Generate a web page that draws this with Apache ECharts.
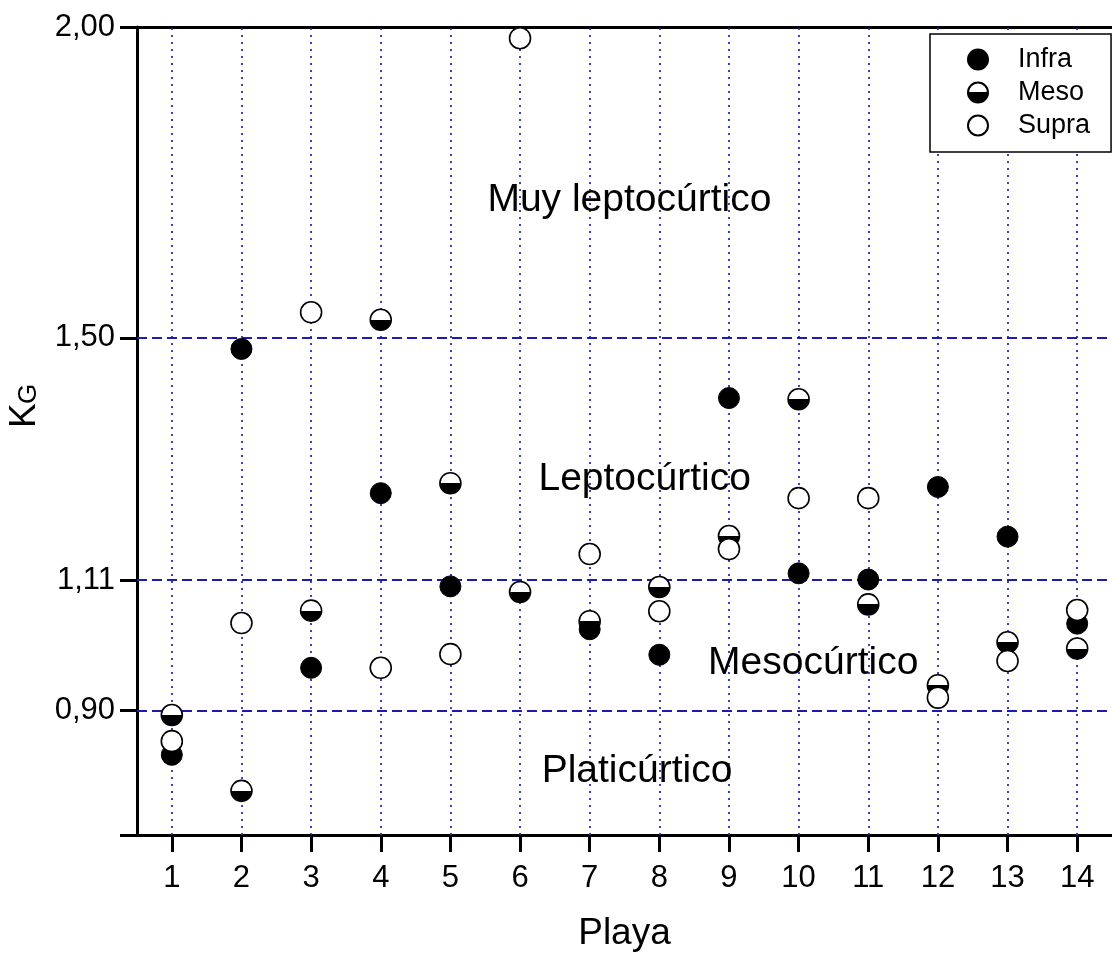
<!DOCTYPE html>
<html>
<head>
<meta charset="utf-8">
<script src="https://cdn.jsdelivr.net/npm/echarts@6/dist/echarts.min.js"></script>
<style>
  html, body { margin: 0; padding: 0; background: #fff; }
  #chart { width: 1112px; height: 960px; }
</style>
</head>
<body>
<div id="chart"></div>
<script>
// Beach index (Playa) and Folk & Ward kurtosis (KG) per beach zone
const playas = [1, 2, 3, 4, 5, 6, 7, 8, 9, 10, 11, 12, 13, 14];
const infra = [0.829, 1.482, 0.969, 1.250, 1.100, null, 1.031, 0.990, 1.403, 1.121, 1.111, 1.260, 1.180, 1.040];
const meso  = [0.893, 0.771, 1.061, 1.529, 1.266, 1.091, 1.044, 1.099, 1.181, 1.401, 1.071, 0.941, 1.010, 1.000];
const supra = [0.851, 1.041, 1.541, 0.969, 0.991, 1.982, 1.152, 1.060, 1.160, 1.242, 1.242, 0.921, 0.980, 1.062];

// Kurtosis class limits and y tick labels
const yTicks = [0.90, 1.11, 1.50, 2.00];
const yMin = 0.70, yMax = 2.00;
const classLimits = [0.90, 1.11, 1.50];

// Class names and where they are written (Playa, KG)
const classNames = ['Muy leptocúrtico', 'Leptocúrtico', 'Mesocúrtico', 'Platicúrtico'];
const classX = [7.57, 7.79, 10.21, 7.68];
const classY = [1.722, 1.273, 0.977, 0.803];

const FONT = '"Liberation Sans", Arial, Helvetica, sans-serif';
const pair = arr => playas.map((p, i) => [p, arr[i]]).filter(d => d[1] != null);

const chart = echarts.init(document.getElementById('chart'), null, { renderer: 'canvas' });

// top half white, bottom half black
const halfFill = {
  type: 'linear', x: 0, y: 0, x2: 0, y2: 1,
  colorStops: [
    { offset: 0, color: '#ffffff' }, { offset: 0.5, color: '#ffffff' },
    { offset: 0.5, color: '#000000' }, { offset: 1, color: '#000000' }
  ]
};

chart.setOption({
  animation: false,
  backgroundColor: '#ffffff',
  grid: { left: 137, top: 27, bottom: 125, right: -11, containLabel: false },
  xAxis: [{
    type: 'value', min: 0.5, max: 14.5,
    name: 'Playa', nameLocation: 'middle', nameGap: 99,
    nameTextStyle: { fontSize: 37, fontFamily: FONT, color: '#000', verticalAlign: 'middle' },
    axisLine: { show: true, lineStyle: { color: '#000', width: 3 } },
    axisTick: { show: true, length: 17, lineStyle: { color: '#000', width: 3 }, customValues: playas },
    axisLabel: { fontSize: 31, fontFamily: FONT, color: '#000', margin: 28, customValues: playas },
    splitLine: { show: false }
  }, {
    type: 'value', min: 0.5, max: 14.5, position: 'top',
    axisLine: { show: true, lineStyle: { color: '#000', width: 3 } },
    axisTick: { show: false }, axisLabel: { show: false }, splitLine: { show: false }
  }],
  yAxis: {
    type: 'value', min: yMin, max: yMax,
    axisLine: { show: true, lineStyle: { color: '#000', width: 3 } },
    axisTick: { show: true, length: 17, lineStyle: { color: '#000', width: 3 }, customValues: [yMin].concat(yTicks) },
    axisLabel: {
      fontSize: 31, fontFamily: FONT, color: '#000', margin: 22, customValues: yTicks,
      formatter: v => v.toFixed(2).replace('.', ',')
    },
    splitLine: { show: false }
  },
  legend: {
    data: ['Infra', 'Meso', 'Supra'],
    orient: 'vertical', left: 930, top: 34,
    padding: [12, 21, 13, 37],
    itemWidth: 20, itemHeight: 20, itemGap: 6,
    backgroundColor: '#ffffff', borderColor: '#000', borderWidth: 1.5,
    textStyle: { fontSize: 27, fontFamily: FONT, color: '#000', padding: [0, 0, 0, 25] }
  },
  series: [
    {
      // grid lines: dotted at each beach, dashed at class limits
      name: 'grid', type: 'scatter', data: [], silent: true, z: 1,
      markLine: {
        silent: true, symbol: 'none', animation: false, z: 1,
        label: { show: false },
        emphasis: { disabled: true },
        data: playas.map(p => ({ xAxis: p, lineStyle: { color: '#2a2ac0', width: 1.8, type: [2, 5] } }))
          .concat(classLimits.map(v => ({ yAxis: v, lineStyle: { color: '#1c1cb0', width: 1.8, type: [10, 5] } })))
      }
    },
    {
      name: 'Infra', type: 'scatter', z: 3, symbol: 'circle', symbolSize: 21,
      itemStyle: { color: '#000', borderColor: '#000', borderWidth: 1, opacity: 1 },
      data: pair(infra)
    },
    {
      name: 'Meso', type: 'scatter', z: 4, symbol: 'circle', symbolSize: 21,
      itemStyle: { color: halfFill, borderColor: '#000', borderWidth: 1.6, opacity: 1 },
      data: pair(meso)
    },
    {
      name: 'Supra', type: 'scatter', z: 5, symbol: 'circle', symbolSize: 21,
      itemStyle: { color: '#fff', borderColor: '#000', borderWidth: 1.6, opacity: 1 },
      data: pair(supra)
    }
  ]
});

// Axis title KG and class names, placed through the grid's coordinate system
const classTexts = classNames.map((n, i) => {
  const pt = chart.convertToPixel({ gridIndex: 0 }, [classX[i], classY[i]]);
  return {
    type: 'text', x: pt[0], y: pt[1], z: 2, silent: true,
    style: { text: n, fontSize: 39, fontFamily: FONT, fill: '#000', align: 'center', verticalAlign: 'middle' }
  };
});

chart.setOption({
  graphic: [{
    type: 'group', x: 38, y: 428, rotation: Math.PI / 2,
    children: [
      { type: 'text', x: 0, y: -13, style: { text: 'K', fontSize: 37, fontFamily: FONT, fill: '#000', verticalAlign: 'middle', align: 'left' } },
      { type: 'text', x: 24, y: -9, style: { text: 'G', fontSize: 26, fontFamily: FONT, fill: '#000', verticalAlign: 'middle', align: 'left' } }
    ]
  }].concat(classTexts)
});
</script>
</body>
</html>
